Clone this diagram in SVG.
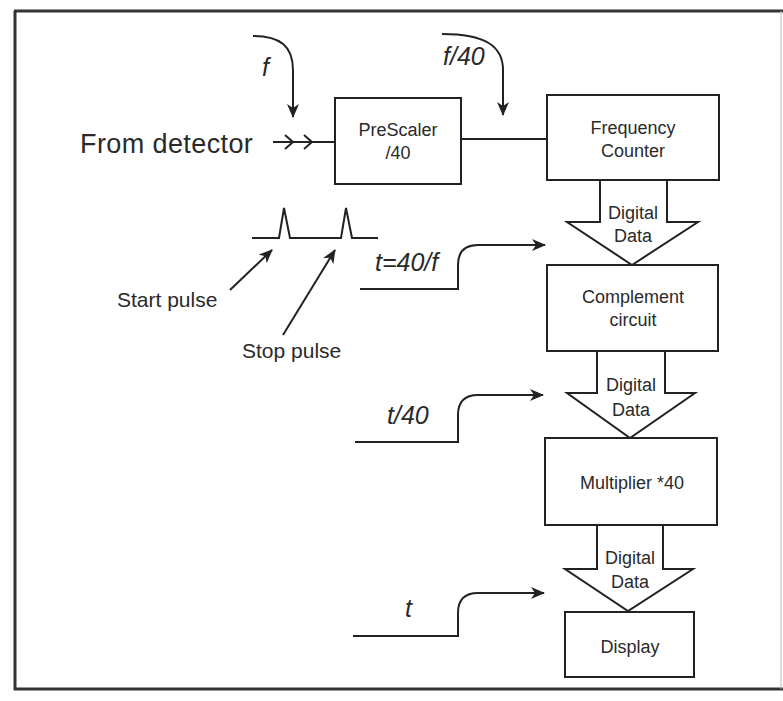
<svg xmlns="http://www.w3.org/2000/svg" width="783" height="701" viewBox="0 0 783 701">
<defs>
<marker id="ah" markerUnits="userSpaceOnUse" markerWidth="14" markerHeight="12" refX="13" refY="6" orient="auto">
<path d="M0,0 L14,6 L0,12 L4,6 Z" fill="#222"/>
</marker>
<style>
.ln{fill:none;stroke:#222;stroke-width:2}
.box{fill:#fff;stroke:#222;stroke-width:2}
.bt{font-family:"Liberation Sans",Arial,sans-serif;font-size:18px;fill:#2a2a2a;text-anchor:middle}
.lbl{font-family:"Liberation Sans",Arial,sans-serif;font-size:21px;fill:#2a2a2a}
.it{font-family:"Liberation Sans",Arial,sans-serif;font-size:25px;font-style:italic;fill:#2a2a2a}
</style>
</defs>
<rect width="783" height="701" fill="#fff"/>
<g id="border">
<line x1="15" y1="11" x2="15" y2="690" stroke="#333" stroke-width="3"/>
<line x1="14" y1="11" x2="783" y2="11" stroke="#333" stroke-width="3"/>
<line x1="14" y1="689" x2="783" y2="689" stroke="#333" stroke-width="3"/>
<line x1="781" y1="11" x2="781" y2="689" stroke="#bbb" stroke-width="1"/>
</g>
<g id="connectors">
<path class="ln" d="M253,36 C280,36 293,46 293,70 L293,117" marker-end="url(#ah)"/>
<path class="ln" d="M442,34 C485,34 503,46 503,70 L503,115" marker-end="url(#ah)"/>
<line class="ln" x1="273" y1="142" x2="335" y2="142"/>
<polyline class="ln" points="285,135 293,142 285,149"/>
<polyline class="ln" points="304,135 312,142 304,149"/>
<line class="ln" x1="461" y1="139" x2="547" y2="139"/>
<path class="ln" d="M360,289 L458,289 L458,265 Q458,245 478,245 L545,245" marker-end="url(#ah)"/>
<path class="ln" d="M355,442 L458,442 L458,415 Q458,395 478,395 L543,395" marker-end="url(#ah)"/>
<path class="ln" d="M353,636 L458,636 L458,613 Q458,593 478,593 L544,593" marker-end="url(#ah)"/>
<polyline class="ln" points="252,238 279,238 284,208 290,238 341,238 346,208 352,238 378,238"/>
<line class="ln" x1="230" y1="290" x2="272" y2="250" marker-end="url(#ah)"/>
<line class="ln" x1="283" y1="335" x2="335" y2="250" marker-end="url(#ah)"/>
</g>
<g id="labels">
<text class="lbl" x="80" y="153" style="font-size:27px;letter-spacing:0.4px">From detector</text>
<text class="lbl" x="117" y="307">Start pulse</text>
<text class="lbl" x="242" y="358">Stop pulse</text>
<text class="it" x="262" y="76">f</text>
<text class="it" x="443" y="65">f/40</text>
<text class="it" x="375" y="271">t=40/f</text>
<text class="it" x="387" y="424">t/40</text>
<text class="it" x="405" y="617">t</text>
</g>
<g id="prescaler">
<rect class="box" x="335" y="98" width="126" height="86"/>
<text class="bt" x="398" y="136">PreScaler</text>
<text class="bt" x="398" y="159">/40</text>
</g>
<g id="frequency-counter">
<rect class="box" x="547" y="95" width="172" height="85"/>
<text class="bt" x="633" y="134">Frequency</text>
<text class="bt" x="633" y="157">Counter</text>
</g>
<g id="data1">
<polyline class="box" points="600,181 600,222 567,222 632,265 698,222 667,222 667,181"/>
<text class="bt" x="633" y="219">Digital</text>
<text class="bt" x="633" y="242">Data</text>
</g>
<g id="complement">
<rect class="box" x="547" y="265" width="171" height="86"/>
<text class="bt" x="633" y="303">Complement</text>
<text class="bt" x="633" y="326">circuit</text>
</g>
<g id="data2">
<polyline class="box" points="597,352 597,393 567,393 630,438 695,393 665,393 665,352"/>
<text class="bt" x="631" y="391">Digital</text>
<text class="bt" x="631" y="416">Data</text>
</g>
<g id="multiplier">
<rect class="box" x="545" y="438" width="172" height="87"/>
<text class="bt" x="632" y="489">Multiplier *40</text>
</g>
<g id="data3">
<polyline class="box" points="597,526 597,569 565,569 628,611 693,569 663,569 663,526"/>
<text class="bt" x="630" y="564">Digital</text>
<text class="bt" x="630" y="588">Data</text>
</g>
<g id="display">
<rect class="box" x="565" y="612" width="129" height="65"/>
<text class="bt" x="630" y="653">Display</text>
</g>
</svg>
